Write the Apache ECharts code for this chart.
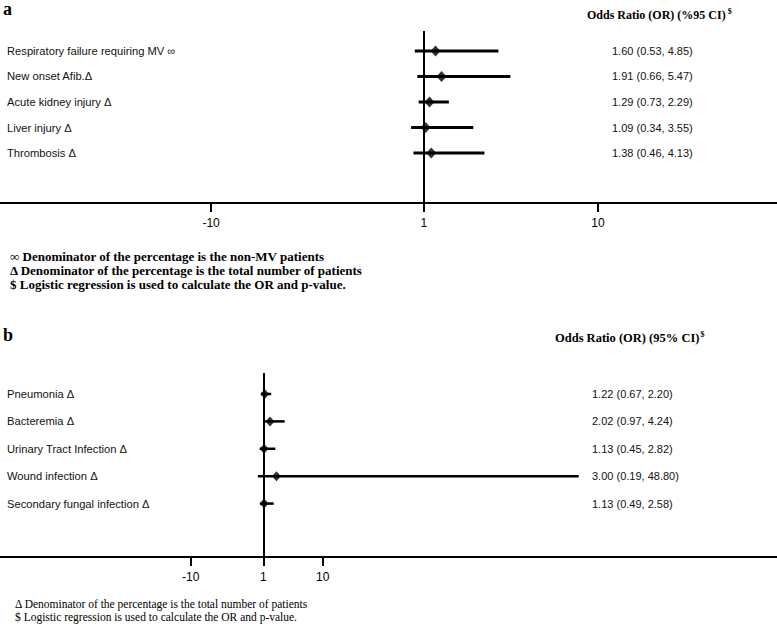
<!DOCTYPE html>
<html>
<head>
<meta charset="utf-8">
<script src="https://cdn.jsdelivr.net/npm/echarts@6/dist/echarts.min.js"></script>
<style>
  html, body { margin: 0; padding: 0; background: #fff; }
  #chart { width: 777px; height: 624px; }
</style>
</head>
<body>
<div id="chart"></div>
<script>
// panel a: complications
var rowsA = ['Respiratory failure requiring MV ∞', 'New onset Afib.Δ', 'Acute kidney injury Δ', 'Liver injury Δ', 'Thrombosis Δ'];
var orA = [1.60, 1.91, 1.29, 1.09, 1.38];
var loA = [0.53, 0.66, 0.73, 0.34, 0.46];
var hiA = [4.85, 5.47, 2.29, 3.55, 4.13];

// panel b: infections
var rowsB = ['Pneumonia Δ', 'Bacteremia Δ', 'Urinary Tract Infection Δ', 'Wound infection Δ', 'Secondary fungal infection Δ'];
var orB = [1.22, 2.02, 1.13, 3.00, 1.13];
var loB = [0.67, 0.97, 0.45, 0.19, 0.49];
var hiB = [2.20, 4.24, 2.82, 48.80, 2.58];

// x tick labels (both panels)
var ticks = [-10, 1, 10];
var rowIdx = [1, 2, 3, 4, 5];

var chart = echarts.init(document.getElementById('chart'), null, { renderer: 'svg' });

var sans = '"Liberation Sans", "DejaVu Sans", Arial, sans-serif';
var serif = '"Liberation Serif", "DejaVu Serif", "Times New Roman", serif';

function orText(or, lo, hi, i) {
  return or[i].toFixed(2) + ' (' + lo[i].toFixed(2) + ', ' + hi[i].toFixed(2) + ')';
}

function xAxisOf(gi, min, max) {
  return {
    gridIndex: gi,
    type: 'value',
    min: min,
    max: max,
    axisLine: { onZero: false, lineStyle: { color: '#000', width: 2 } },
    axisTick: { customValues: ticks, length: 9, lineStyle: { color: '#000', width: 2 } },
    axisLabel: { customValues: ticks, color: '#000', fontSize: 12, fontFamily: sans, margin: 14 },
    splitLine: { show: false }
  };
}

function yAxisOf(gi, min, max, pos, margin, size, fmt) {
  return {
    gridIndex: gi,
    type: 'value',
    inverse: true,
    position: pos,
    min: min,
    max: max,
    axisLine: { show: false, onZero: false },
    axisTick: { show: false },
    splitLine: { show: false },
    axisLabel: {
      inside: true,
      customValues: rowIdx,
      align: 'left',
      margin: margin,
      color: '#111',
      fontSize: size,
      fontFamily: sans,
      formatter: fmt
    }
  };
}

function ciSeries(xi, yi, lo, hi, w) {
  return {
    type: 'custom',
    xAxisIndex: xi,
    yAxisIndex: yi,
    encode: { x: [0, 1], y: 2 },
    data: lo.map(function (v, i) { return [v, hi[i], rowIdx[i]]; }),
    renderItem: function (params, api) {
      var a = api.coord([api.value(0), api.value(2)]);
      var b = api.coord([api.value(1), api.value(2)]);
      return {
        type: 'line',
        shape: { x1: a[0], y1: a[1], x2: b[0], y2: b[1] },
        style: { stroke: '#000', lineWidth: w }
      };
    },
    z: 3
  };
}

function pointSeries(xi, yi, or, size) {
  return {
    type: 'scatter',
    xAxisIndex: xi,
    yAxisIndex: yi,
    symbol: 'diamond',
    symbolSize: size,
    itemStyle: { color: '#000' },
    data: or.map(function (v, i) { return [v, rowIdx[i]]; }),
    markLine: {
      silent: true,
      symbol: ['none', 'none'],
      label: { show: false },
      lineStyle: { color: '#000', width: 2, type: 'solid' },
      data: [{ xAxis: 1 }]
    },
    z: 4
  };
}

var option = {
  animation: false,
  backgroundColor: '#fff',
  grid: [
    { left: 0, right: 0, top: 31, height: 172, outerBoundsMode: 'none' },
    { left: 0, right: 0, top: 373, height: 184, outerBoundsMode: 'none' }
  ],
  xAxis: [
    xAxisOf(0, -20.91, 19.25),
    xAxisOf(1, -38.89, 78.84)
  ],
  yAxis: [
    yAxisOf(0, 0.216, 6.96, 'left', 7, 11.2, function (v) { return rowsA[v - 1] || ''; }),
    yAxisOf(0, 0.216, 6.96, 'right', 165, 11, function (v) { return v >= 1 && v <= 5 ? orText(orA, loA, hiA, v - 1) : ''; }),
    yAxisOf(1, 0.234, 6.95, 'left', 7, 11.2, function (v) { return rowsB[v - 1] || ''; }),
    yAxisOf(1, 0.234, 6.95, 'right', 185, 11, function (v) { return v >= 1 && v <= 5 ? orText(orB, loB, hiB, v - 1) : ''; })
  ],
  series: [
    ciSeries(0, 0, loA, hiA, 3),
    pointSeries(0, 0, orA, [10, 11]),
    ciSeries(1, 2, loB, hiB, 2.5),
    pointSeries(1, 2, orB, [9, 10])
  ],
  graphic: [
    { type: 'text', x: 3, y: 9, style: { text: 'a', font: 'bold 18px ' + serif, fill: '#000', verticalAlign: 'middle' } },
    { type: 'text', x: 3, y: 335, style: { text: 'b', font: 'bold 18px ' + serif, fill: '#000', verticalAlign: 'middle' } },
    {
      type: 'text', x: 587, y: 15,
      style: {
        text: '{m|Odds Ratio (OR) (%95 CI)}{s|$}',
        verticalAlign: 'middle',
        rich: {
          m: { font: 'bold 12px ' + serif, fill: '#000', lineHeight: 16 },
          s: { font: 'bold 8px ' + serif, fill: '#000', verticalAlign: 'top', lineHeight: 16, padding: [0, 0, 0, 2] }
        }
      }
    },
    {
      type: 'text', x: 555, y: 338,
      style: {
        text: '{m|Odds Ratio (OR) (95% CI)}{s|$}',
        verticalAlign: 'middle',
        rich: {
          m: { font: 'bold 12.5px ' + serif, fill: '#000', lineHeight: 16 },
          s: { font: 'bold 8px ' + serif, fill: '#000', verticalAlign: 'top', lineHeight: 16, padding: [0, 0, 0, 1] }
        }
      }
    },
    { type: 'text', x: 10, y: 256, style: { text: '∞ Denominator of the percentage is the non-MV patients', font: 'bold 13px ' + serif, fill: '#000', verticalAlign: 'middle' } },
    { type: 'text', x: 10, y: 270, style: { text: 'Δ Denominator of the percentage is the total number of patients', font: 'bold 13px ' + serif, fill: '#000', verticalAlign: 'middle' } },
    { type: 'text', x: 10, y: 284, style: { text: '$ Logistic regression is used to calculate the OR and p-value.', font: 'bold 13px ' + serif, fill: '#000', verticalAlign: 'middle' } },
    { type: 'text', x: 15, y: 604, style: { text: 'Δ Denominator of the percentage is the total number of patients', font: '11.5px ' + serif, fill: '#000', verticalAlign: 'middle' } },
    { type: 'text', x: 15, y: 617, style: { text: '$ Logistic regression is used to calculate the OR and p-value.', font: '11.5px ' + serif, fill: '#000', verticalAlign: 'middle' } }
  ]
};

chart.setOption(option);
</script>
</body>
</html>
